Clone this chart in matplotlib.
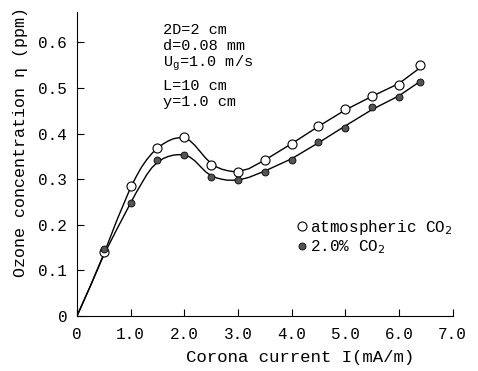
import numpy as np
import matplotlib
matplotlib.use('Agg')
import matplotlib.pyplot as plt

I_pts = [0.5, 1.0, 1.5, 2.0, 2.5, 3.0, 3.5, 4.0, 4.5, 5.0, 5.5, 6.0, 6.4]
atm_pts = [0.140, 0.286, 0.369, 0.393, 0.331, 0.316, 0.342, 0.378, 0.417, 0.453, 0.482, 0.506, 0.550]
co2_pts = [0.147, 0.247, 0.342, 0.354, 0.306, 0.299, 0.316, 0.342, 0.382, 0.412, 0.459, 0.480, 0.514]

# Fitted curves
I_curve = [0.0, 0.25, 0.5, 0.75, 1.0, 1.1, 1.2, 1.3, 1.4, 1.5, 1.6, 1.7, 1.8, 1.9, 2.0,
           2.1, 2.2, 2.3, 2.4, 2.5, 2.6, 2.7, 2.8, 2.9, 3.0, 3.2, 3.5, 4.0, 4.5, 5.0,
           5.5, 6.0, 6.4]
atm_curve = [0.0, 0.066, 0.136, 0.212, 0.282, 0.305, 0.326, 0.343, 0.357, 0.368, 0.377,
             0.384, 0.389, 0.391, 0.390, 0.385, 0.374, 0.360, 0.346, 0.335, 0.327, 0.322,
             0.319, 0.317, 0.317, 0.323, 0.342, 0.378, 0.416, 0.452, 0.482, 0.510, 0.545]
co2_curve = [0.0, 0.066, 0.134, 0.192, 0.248, 0.270, 0.290, 0.310, 0.326, 0.337, 0.345,
             0.350, 0.353, 0.354, 0.353, 0.349, 0.340, 0.328, 0.316, 0.308, 0.303, 0.300,
             0.298, 0.298, 0.298, 0.304, 0.318, 0.345, 0.380, 0.417, 0.453, 0.483, 0.515]

xticks = [0, 1, 2, 3, 4, 5, 6, 7]
xlabels = ['0', '1.0', '2.0', '3.0', '4.0', '5.0', '6.0', '7.0']
yticks = [0, 0.1, 0.2, 0.3, 0.4, 0.5, 0.6]
ylabels = ['0', '0.1', '0.2', '0.3', '0.4', '0.5', '0.6']

plt.rcParams['font.family'] = ['Liberation Mono', 'DejaVu Sans Mono']

fig = plt.figure(figsize=(4.78, 3.71), dpi=100)
ax = fig.add_axes([0.161, 0.148, 0.786, 0.820])

ax.plot(I_curve, atm_curve, color='k', lw=1.0, zorder=2)
ax.plot(I_curve, co2_curve, color='k', lw=1.0, zorder=2)
ax.plot(I_pts, atm_pts, 'o', ms=6.5, mfc='white', mec='k', mew=0.8, zorder=3,
        label=r'atmospheric CO$_2$')
ax.plot(I_pts, co2_pts, 'o', ms=5, mfc='#555555', mec='k', mew=0.6, zorder=3,
        label=r'2.0% CO$_2$')

ax.set_xlim(0, 7.0)
ax.set_ylim(0, 0.667)
ax.set_xticks(xticks)
ax.set_xticklabels(xlabels)
ax.set_yticks(yticks)
ax.set_yticklabels(ylabels)
ax.tick_params(direction='in', length=5, width=0.8, labelsize=11.5)
ax.tick_params(axis='x', pad=8)
ax.tick_params(axis='y', pad=7)
ax.spines['top'].set_visible(False)
ax.spines['right'].set_visible(False)

ax.set_xlabel('Corona current I(mA/m)', fontsize=12.5, va='center')
ax.xaxis.set_label_coords(0.593, -0.135)
ax.set_ylabel('Ozone concentration η (ppm)', fontsize=12, va='center')
ax.yaxis.set_label_coords(-0.15, 0.572)

txt = ['2D=2 cm', 'd=0.08 mm', r'U$_\mathregular{g}$=1.0 m/s', 'L=10 cm', 'y=1.0 cm']
ty = [30, 46, 63, 86, 102]
for s, y in zip(txt, ty):
    fig.text(163 / 478, 1 - y / 371, s, fontsize=11, va='center', ha='left')

leg = ax.legend(loc='upper left', bbox_to_anchor=(0.56, 0.345), frameon=False,
                handletextpad=0.0, handlelength=1.0, labelspacing=0.1, fontsize=11.5,
                borderaxespad=0)

fig.savefig('out.png', dpi=100)
